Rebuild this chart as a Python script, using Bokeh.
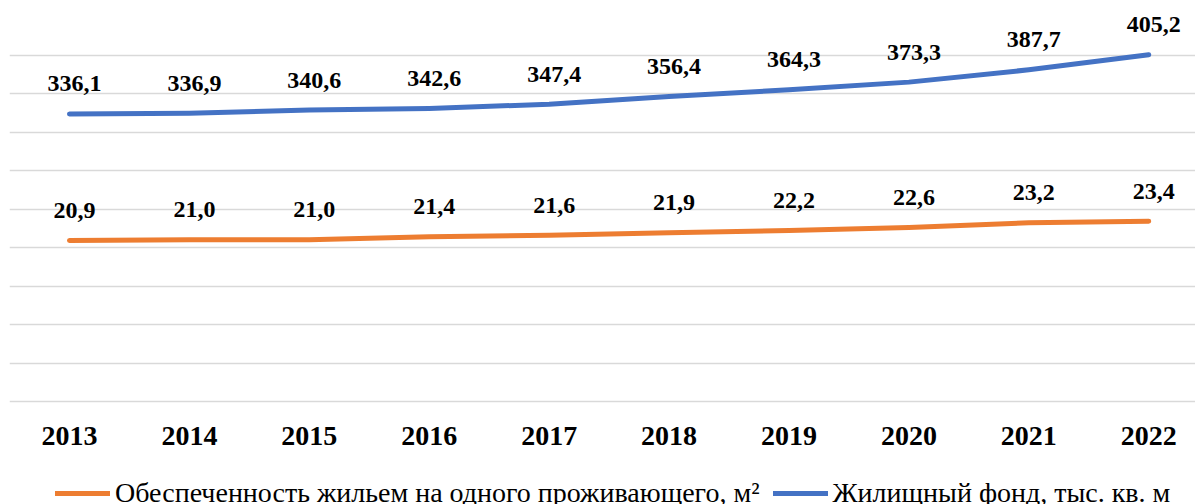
from bokeh.plotting import figure
from bokeh.models import Range1d, FixedTicker, ColumnDataSource, Legend, LegendItem
from bokeh.core.properties import value
from bokeh.embed import file_html
from bokeh.resources import INLINE

years = [2013, 2014, 2015, 2016, 2017, 2018, 2019, 2020, 2021, 2022]
housing_per_person = [20.9, 21.0, 21.0, 21.4, 21.6, 21.9, 22.2, 22.6, 23.2, 23.4]
housing_stock = [336.1, 336.9, 340.6, 342.6, 347.4, 356.4, 364.3, 373.3, 387.7, 405.2]
series_names = ["Обеспеченность жильем на одного проживающего, м²",
                "Жилищный фонд, тыс. кв. м"]
year_labels = [str(y) for y in years]

def fmt(v):
    return f"{v:.1f}".replace(".", ",")

src_o = ColumnDataSource(dict(x=years, y=housing_per_person, t=[fmt(v) for v in housing_per_person]))
src_b = ColumnDataSource(dict(x=years, y=housing_stock, t=[fmt(v) for v in housing_stock]))
src_yr = ColumnDataSource(dict(x=years, y=[0] * len(years), t=year_labels))

# frame spans 16..504 px; 0 sits at 401 px, 50 at 16 px
ext = 50 * 103 / 385
p = figure(width=1195, height=504, output_backend="svg", toolbar_location=None,
           x_range=Range1d(2012.5, 2022.39), y_range=Range1d(-ext, 50),
           min_border_left=9, min_border_right=0, min_border_top=16, min_border_bottom=0)
p.extra_y_ranges = {"stock": Range1d(-ext * 9, 450)}
p.outline_line_color = None
p.background_fill_color = "white"

p.yaxis.visible = False
p.xaxis.visible = False
p.xgrid.visible = False
p.ygrid.ticker = FixedTicker(ticks=[0, 5, 10, 15, 20, 25, 30, 35, 40, 45, 50])
p.ygrid.grid_line_color = "#d9d9d9"
p.ygrid.grid_line_width = 1.5

# category (year) labels under the plotting area
p.text("x", "y", text="t", source=src_yr,
       text_font=value("Liberation Serif"), text_font_style="bold",
       text_font_size="28px", text_color="black",
       text_align="center", text_baseline="middle", y_offset=34)

r_o = p.line("x", "y", source=src_o, line_color="#ED7D31", line_width=5,
             line_cap="round", line_join="round")
r_b = p.line("x", "y", source=src_b, line_color="#4472C4", line_width=5,
             line_cap="round", line_join="round", y_range_name="stock")

for src, rn in ((src_o, "default"), (src_b, "stock")):
    p.text("x", "y", text="t", source=src, y_range_name=rn,
           text_font=value("Liberation Serif"), text_font_style="bold",
           text_font_size="24px", text_color="black",
           text_align="center", text_baseline="middle",
           x_offset=5, y_offset=-30)

legend = Legend(items=[LegendItem(label=series_names[0], renderers=[r_o]),
                       LegendItem(label=series_names[1], renderers=[r_b])],
                orientation="horizontal", location=(46, -5),
                label_text_font="Liberation Serif", label_text_font_size="28px",
                label_text_color="black", glyph_width=55, glyph_height=30,
                label_standoff=5, spacing=13, padding=0, margin=0,
                border_line_color=None, background_fill_alpha=0)
p.add_layout(legend, "center")

open("out.html", "w").write(file_html(p, INLINE))
